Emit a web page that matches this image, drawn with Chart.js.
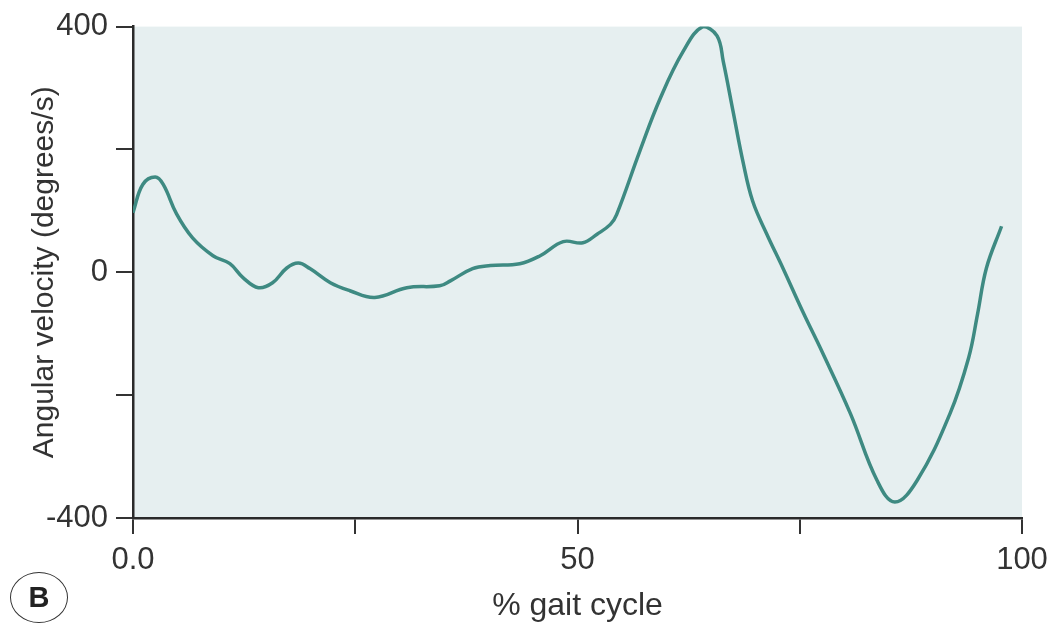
<!DOCTYPE html>
<html>
<head>
<meta charset="utf-8">
<script src="https://cdn.jsdelivr.net/npm/chart.js@4"></script>
<style>
  body { margin: 0; background: #fff; }
  #wrap { position: relative; width: 1057px; height: 628px; }
  #badge {
    position: absolute; left: 10px; top: 572px; width: 56px; height: 49px;
    border: 1.5px solid #333; border-radius: 50%;
    font: bold 29px "Liberation Sans", Arial, sans-serif; color: #222;
    display: flex; align-items: center; justify-content: center;
  }
</style>
</head>
<body>
<div id="wrap">
  <canvas id="gait"></canvas>
  <div id="badge">B</div>
</div>
<script>
// % of gait cycle and angular velocity
const gaitPct = [0, 1.1, 2.5, 3.4, 4.9, 6.7, 9.0, 10.9, 12.4, 14.1, 15.7, 17.3, 18.6, 19.9, 22.2, 24.4, 27.2,
  30.8, 34.5, 35.7, 38.2, 40.2, 43.5, 45.8, 48.4, 50.6, 52.2, 53.7, 54.4, 57.0, 59.3, 61.9, 64.1, 65.7,
  66.4, 67.5, 68.6, 69.7, 71.3, 73.1, 75.4, 77.5, 80.7, 83.7, 85.7, 88.2, 91.9, 94.0, 95.0, 96.0, 97.7];
const angVel = [97, 143, 155, 143, 95, 56, 27, 14, -9, -25, -17, 7, 15, 6, -17, -30, -41,
  -25, -22, -14, 6, 11, 14, 27, 50, 48, 62, 78, 94, 197, 283, 360, 400, 385,
  343, 262, 181, 116, 62, 7, -66, -129, -230, -339, -374, -339, -230, -139, -68, 7, 75];

const xTickLabels = {0: '0.0', 50: '50', 100: '100'};
const yTickLabels = {400: '400', 0: '0', '-400': '-400'};

const pts = gaitPct.map((p, i) => ({x: p, y: angVel[i]}));

// light panel behind the plot
const panelBg = {
  id: 'panelBg',
  beforeDraw(chart) {
    const a = chart.chartArea, c = chart.ctx;
    c.save();
    c.fillStyle = '#e6eff0';
    c.fillRect(a.left, a.top, a.right - a.left, a.bottom - a.top);
    c.restore();
  }
};

const fam = '"Liberation Sans", Arial, sans-serif';

new Chart(document.getElementById('gait'), {
  type: 'line',
  data: {
    datasets: [{
      data: pts,
      borderColor: '#3e8a82',
      borderWidth: 3.5,
      pointRadius: 0,
      tension: 0.4,
      fill: false
    }]
  },
  plugins: [panelBg],
  options: {
    responsive: true,
    maintainAspectRatio: false,
    animation: false,
    layout: {padding: {left: 0, right: 35, top: 23, bottom: 0}},
    plugins: {legend: {display: false}, tooltip: {enabled: false}},
    scales: {
      x: {
        type: 'linear',
        min: 0, max: 100,
        afterFit: (s) => { s.height = 110; },
        ticks: {
          stepSize: 25, color: '#333', font: {family: fam, size: 31}, padding: 8,
          maxRotation: 0,
          callback: (v) => xTickLabels[v] || ''
        },
        grid: {drawOnChartArea: false, drawTicks: true, tickLength: 16, color: '#333', lineWidth: 2},
        border: {color: '#2a2a2a', width: 2.5},
        title: {display: true, text: '% gait cycle', color: '#333', font: {family: fam, size: 32}, padding: {top: 0, bottom: 3}}
      },
      y: {
        min: -400, max: 400,
        afterFit: (s) => { s.width = 133; },
        ticks: {
          stepSize: 200, color: '#333', font: {family: fam, size: 31}, padding: 8,
          callback: (v) => yTickLabels[v] || ''
        },
        grid: {drawOnChartArea: false, drawTicks: true, tickLength: 17, color: '#333', lineWidth: 2},
        border: {color: '#2a2a2a', width: 2.5},
        title: {display: true, text: 'Angular velocity (degrees/s)', color: '#333', font: {family: fam, size: 30}, padding: {top: 27, bottom: 0}}
      }
    }
  }
});
</script>
</body>
</html>
